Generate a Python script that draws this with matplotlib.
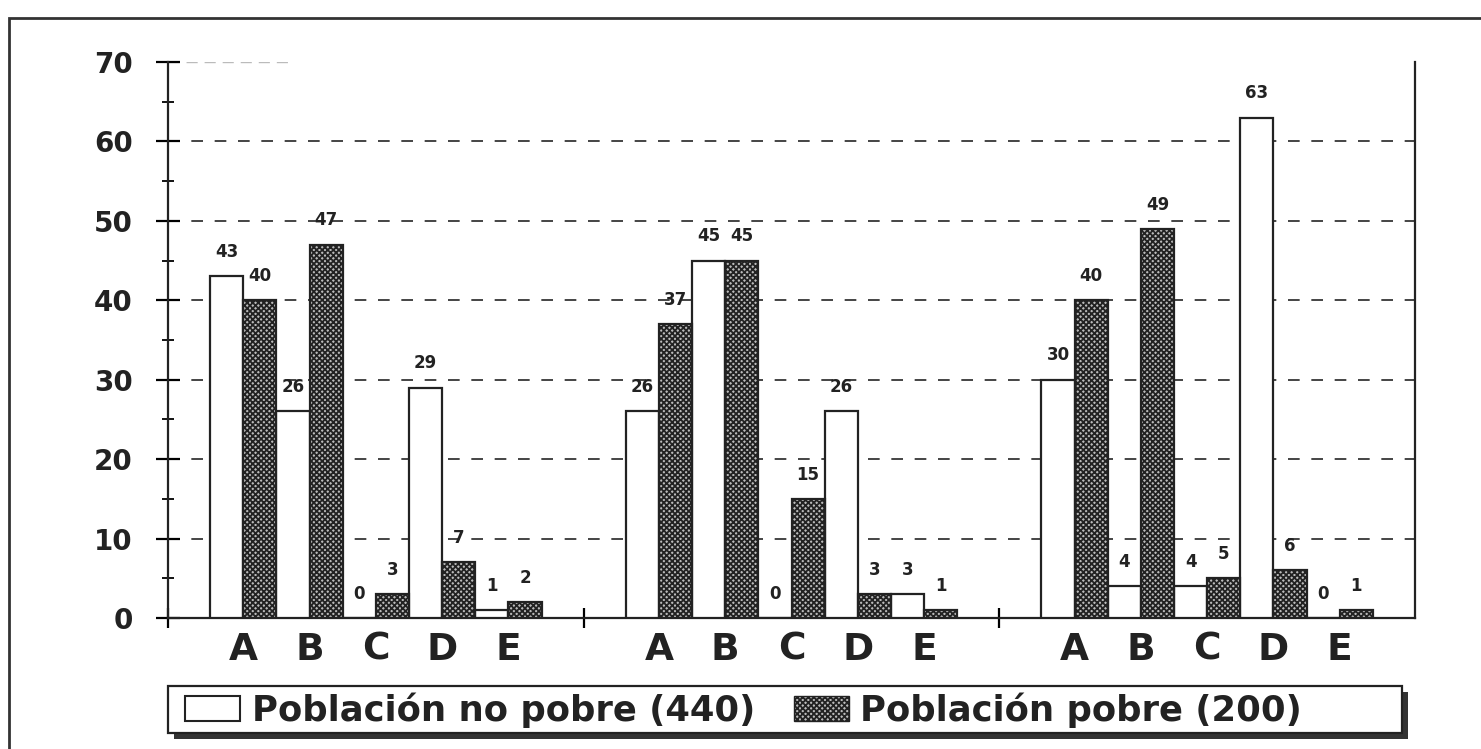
import matplotlib.pyplot as plt
import matplotlib.patches as mpatches
import numpy as np

plt.rcParams['font.family'] = ['DejaVu Sans']
plt.rcParams['font.weight'] = 'bold'
plt.rcParams['hatch.linewidth'] = 1.3
plt.rcParams['hatch.color'] = '#222222'

categorias = ['A', 'B', 'C', 'D', 'E']
no_pobre = [[43, 26, 0, 29, 1],
            [26, 45, 0, 26, 3],
            [30, 4, 4, 63, 0]]
pobre = [[40, 47, 3, 7, 2],
         [37, 45, 15, 3, 1],
         [40, 49, 5, 6, 1]]
leyenda = ['Población no pobre (440)', 'Población pobre (200)']
yticks = [0, 10, 20, 30, 40, 50, 60, 70]

ink = '#222222'
fig = plt.figure(figsize=(14.81, 7.49), dpi=100)
ax = fig.add_axes([168 / 1481, 1 - 618 / 749, (1415 - 168) / 1481, 556 / 749])

# marco exterior
fig.patches.append(mpatches.Rectangle((0.006, -0.02), 1.2, 0.996, transform=fig.transFigure,
                                      fill=False, edgecolor='#333333', linewidth=2))

bw = 0.5
gap = 0.635
W = 5 + 2 * gap
for g in range(3):
    x0 = g * W + gap + np.arange(5)
    b1 = ax.bar(x0 + bw / 2, no_pobre[g], width=bw, color='white', edgecolor=ink,
                linewidth=1.6, zorder=3)
    b2 = ax.bar(x0 + 1.5 * bw, pobre[g], width=bw, color='#bbbbbb', edgecolor=ink,
                hatch='xxxxxx', linewidth=1.6, zorder=3)
    for bars, vals in ((b1, no_pobre[g]), (b2, pobre[g])):
        for r, v in zip(bars, vals):
            ax.annotate(str(v), (r.get_x() + r.get_width() / 2, v), xytext=(0, 11),
                        textcoords='offset points', ha='center', va='bottom',
                        fontsize=12, color=ink)
    for k, c in enumerate(categorias):
        ax.annotate(c, (x0[k] + 0.5, 0), xytext=(0, -10), textcoords='offset points',
                    ha='center', va='top', fontsize=27, color=ink, annotation_clip=False)

ax.set_xlim(0, 3 * W)
ax.set_ylim(0, 70)
ax.set_yticks(yticks)
ax.set_yticklabels([str(t) for t in yticks], fontsize=20, color=ink)
ax.set_yticks(np.arange(5, 70, 5), minor=True)
ax.tick_params(axis='y', which='major', direction='inout', length=17, width=1.6, pad=17)
ax.tick_params(axis='y', which='minor', direction='inout', length=9, width=1.3)
ax.set_xticks([0, W, 2 * W])
ax.set_xticklabels([])
ax.tick_params(axis='x', direction='inout', length=14, width=1.6)

for y in yticks[1:-1]:
    ax.axhline(y, color='#444444', linestyle=(0, (6, 6)), linewidth=1.4, zorder=1)
ax.axhline(70, xmax=0.1, color='#bbbbbb', linestyle=(0, (8, 5)), linewidth=1.0, zorder=1)

ax.spines['top'].set_visible(False)
for s in ('left', 'right', 'bottom'):
    ax.spines[s].set_linewidth(1.6)
    ax.spines[s].set_color(ink)

# caja de la leyenda con sombra
fig.patches.append(mpatches.Rectangle((174 / 1481, 1 - 739 / 749), 1234 / 1481, 47 / 749,
                                      transform=fig.transFigure, facecolor='#333333',
                                      edgecolor='none'))
fig.patches.append(mpatches.Rectangle((168 / 1481, 1 - 733 / 749), 1234 / 1481, 47 / 749,
                                      transform=fig.transFigure, facecolor='white',
                                      edgecolor=ink, linewidth=1.6))

handles = [mpatches.Patch(facecolor='white', edgecolor=ink, linewidth=1.5),
           mpatches.Patch(facecolor='#bbbbbb', edgecolor=ink, hatch='xxxxxx', linewidth=1.0)]
leg = fig.legend(handles, leyenda, loc='center left', bbox_to_anchor=(185 / 1481, 1 - 710 / 749),
                 ncol=2, prop={'size': 25.5, 'weight': 'bold'}, frameon=False,
                 handlelength=1.55, handleheight=0.7, columnspacing=1.1, borderpad=0,
                 borderaxespad=0, handletextpad=0.33)
for t in leg.get_texts():
    t.set_color(ink)

fig.savefig('out.png', dpi=100)
